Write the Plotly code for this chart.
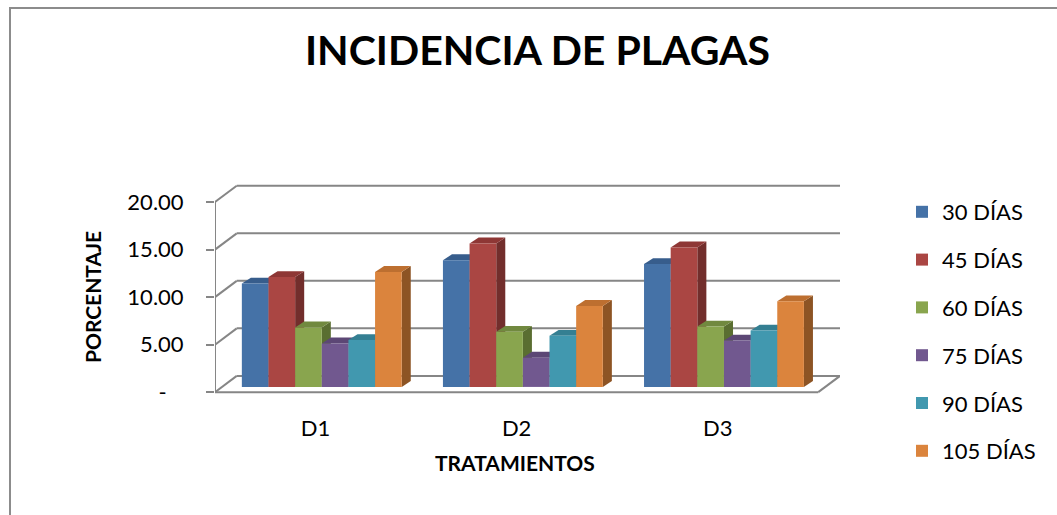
import plotly.graph_objects as go

# ---------------- data ----------------
categories = ["D1", "D2", "D3"]
series_names = ["30 DÍAS", "45 DÍAS", "60 DÍAS", "75 DÍAS", "90 DÍAS", "105 DÍAS"]
dias_30 = [10.87, 13.34, 12.92]
dias_45 = [11.56, 15.09, 14.68]
dias_60 = [6.26, 5.80, 6.35]
dias_75 = [4.58, 3.07, 4.88]
dias_90 = [4.93, 5.38, 5.93]
dias_105 = [12.09, 8.52, 9.01]
y_ticks = [0, 5, 10, 15, 20]
y_tick_labels = ["-\u00a0\u00a0\u00a0", "5.00", "10.00", "15.00", "20.00"]

series_values = [dias_30, dias_45, dias_60, dias_75, dias_90, dias_105]

# ---------------- styles ----------------
front_colors = ["#4572A7", "#AA4643", "#89A54E", "#71588F", "#4198AF", "#DB843D"]
top_colors = ["#375d8c", "#8e3735", "#71893f", "#5c4775", "#347f92", "#bd6f30"]
side_colors = ["#2c4a70", "#722e2c", "#5a6e31", "#4a3a60", "#2b687a", "#8d5424"]
grid_color = "#868686"
FONT = "Lato"

W, H = 1057, 515
ML, MR, MT, MB = 215, 217, 183.6, 119.8
DX, DY = 0.108, 1.71          # wall depth (x units, y units)
BX, BB = 0.031, 0.55          # bar front-plane shift
DDX, DDY = 0.045, 0.62        # bar depth
BARGAP = 0.205
ncat = len(categories)
nser = len(series_names)
bw = (1 - BARGAP) / nser

def px2paper(px, py):
    return ((px - ML) / (W - ML - MR), 1 - (py - MT) / (H - MT - MB))

fig = go.Figure()
xs = [i + BX for i in range(ncat)]
for j, (name, vals) in enumerate(zip(series_names, series_values)):
    fig.add_trace(go.Bar(
        x=xs, y=vals, base=[BB] * ncat, name=name,
        marker=dict(color=front_colors[j], line=dict(width=0)),
        legendgroup=name,
    ))

shapes = []
def line(x0, y0, x1, y1):
    shapes.append(dict(type="line", xref="x", yref="y", x0=x0, y0=y0, x1=x1, y1=y1,
                       line=dict(color=grid_color, width=2), layer="below"))

x_left, x_right = -0.5, ncat - 0.5
for v in y_ticks:
    line(x_left + DX, v + DY, x_right + DX, v + DY)       # back wall grid
    line(x_left, v, x_left + DX, v + DY)                   # left wall diagonal
line(x_left, 0, x_left, y_ticks[-1])                       # front axis line
line(x_left, 0, x_right, 0)                                # floor front edge
line(x_right, 0, x_right + DX, DY)                         # floor right edge

sides, tops = [], []
for i in range(ncat):
    for j in range(nser):
        v = series_values[j][i]
        x0 = i + BX - (1 - BARGAP) / 2 + j * bw
        x1 = x0 + bw
        top = BB + v
        sides.append(dict(type="path", xref="x", yref="y", layer="below",
                          path=f"M{x1},{BB} L{x1},{top} L{x1+DDX},{top+DDY} L{x1+DDX},{BB+DDY} Z",
                          fillcolor=side_colors[j], line=dict(width=0)))
        tops.append(dict(type="path", xref="x", yref="y", layer="below",
                         path=f"M{x0},{top} L{x1},{top} L{x1+DDX},{top+DDY} L{x0+DDX},{top+DDY} Z",
                         fillcolor=top_colors[j], line=dict(width=0)))
shapes += sides + tops

# outer border
bx0, by0 = px2paper(10, 7)
bx1, _ = px2paper(1070, 7)
_, by1 = px2paper(10, 530)
shapes.append(dict(type="path", xref="paper", yref="paper",
                   path=f"M{bx0},{by1} L{bx0},{by0} L{bx1},{by0}",
                   line=dict(color="#8c8c8c", width=2)))

ax_x, ax_y = px2paper(515, 463)
ay_x, ay_y = px2paper(92, 297)

fig.update_layout(
    width=W, height=H,
    margin=dict(l=ML, r=MR, t=MT, b=MB, autoexpand=False),
    paper_bgcolor="white", plot_bgcolor="white",
    barmode="group", bargap=BARGAP, bargroupgap=0,
    font=dict(family=FONT, color="black"),
    title=dict(text="<b>INCIDENCIA DE PLAGAS</b>", font=dict(family=FONT, size=41, color="black"),
               xref="container", yref="container", x=537.5 / W, y=1 - 51 / H,
               xanchor="center", yanchor="middle"),
    xaxis=dict(range=[x_left, x_right + DX], tickvals=list(range(ncat)), ticktext=categories,
               showgrid=False, zeroline=False, showline=False, ticks="",
               tickfont=dict(family=FONT, size=22, color="black"), ticklabelstandoff=18),
    yaxis=dict(range=[-0.3, 21.9], tickvals=y_ticks, ticktext=y_tick_labels,
               showgrid=False, zeroline=False, showline=False,
               ticks="outside", ticklen=8, tickwidth=2, tickcolor=grid_color,
               tickfont=dict(family=FONT, size=22, color="black"), ticklabelstandoff=18),
    legend=dict(xref="container", yref="container", x=902 / W, y=1 - 191 / H,
                xanchor="left", yanchor="top", tracegroupgap=16.2, maxheight=400,
                font=dict(family=FONT, size=22, color="black"), bgcolor="rgba(0,0,0,0)"),
    shapes=shapes,
    annotations=[
        dict(text="<b>TRATAMIENTOS</b>", xref="paper", yref="paper", x=ax_x, y=ax_y,
             showarrow=False, xanchor="center", yanchor="middle",
             font=dict(family=FONT, size=21, color="black")),
        dict(text="<b>PORCENTAJE</b>", xref="paper", yref="paper", x=ay_x, y=ay_y,
             showarrow=False, xanchor="center", yanchor="middle", textangle=-90,
             font=dict(family=FONT, size=21, color="black")),
    ],
)

fig.write_html("out.html", config={"displayModeBar": False},
               post_script="document.body.style.margin='0px';")
